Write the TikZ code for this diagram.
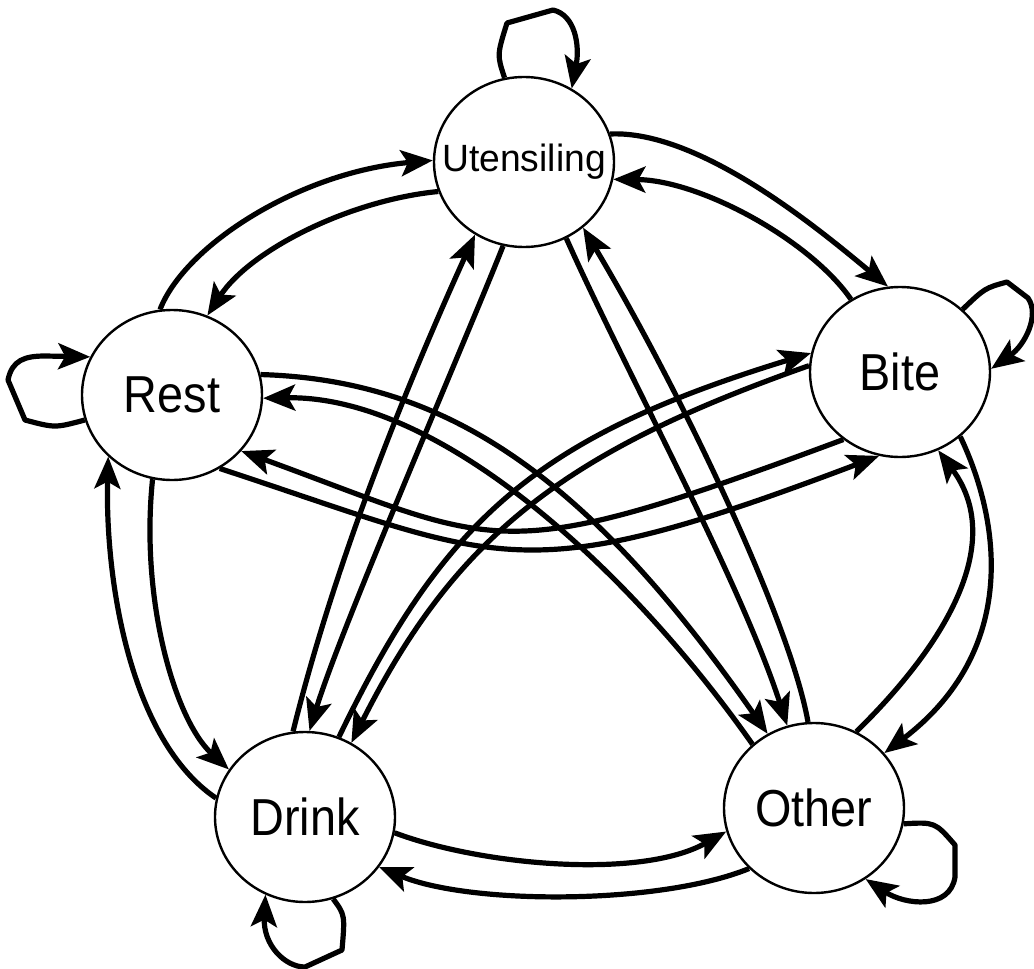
\documentclass[tikz,border=0pt]{standalone}
\usepackage{fontspec}
\usepackage{graphicx}
\setmainfont{Liberation Sans}
\usetikzlibrary{shapes.geometric,arrows.meta}
\begin{document}
\begin{tikzpicture}[x=1pt,y=-1pt,
  state/.style={ellipse,draw,line width=2.4pt,minimum width=180pt,minimum height=170pt,inner sep=0pt},
  biglabel/.style={font=\fontsize{52}{52}\selectfont},
  smalllabel/.style={font=\fontsize{38}{38}\selectfont},
  edge/.style={line width=5.2pt,line join=round,-{Stealth[length=32pt,width=26pt,inset=7pt]}}
]
\useasboundingbox (0,0) rectangle (1034,969);
% states
\node[state,smalllabel] (U) at (524,162) {\makebox[0pt]{\scalebox{0.98}[1]{Utensiling}}};
\node[state,biglabel] (B) at (900,372) {\makebox[0pt]{\scalebox{0.9}[1]{Bite}}};
\node[state,biglabel] (R) at (172,395) {\makebox[0pt]{\scalebox{0.9}[1]{Rest}}};
\node[state,biglabel] (D) at (305,817) {\makebox[0pt]{\scalebox{0.9}[1]{Drink}}};
\node[state,biglabel] (O) at (814,808) {\makebox[0pt]{\scalebox{0.9}[1]{Other}}};
% self loops
\draw[edge] (U.103) .. controls (497,55) .. (507,23) -- (553,10) .. controls (575,15) and (580,45) .. (U.57);
\draw[edge] (R.196) .. controls (55,428) .. (25,420) -- (8,380) .. controls (12,360) and (25,356) .. (45,356) -- (R.155);
\draw[edge] (B.45) .. controls (985,288) .. (1007,282) -- (1028,298) .. controls (1040,315) and (1025,345) .. (B.2);
\draw[edge] (D.289) .. controls (345,915) .. (342,950) -- (305,967) .. controls (285,967) and (263,945) .. (D.243);
\draw[edge] (O.350) .. controls (935,822) .. (955,845) -- (955,877) .. controls (950,910) and (905,905) .. (O.306);
% Rest - Utensiling
\draw[edge] (R.98) .. controls (185,245) and (300,172) .. (U.179);
\draw[edge] (U.199) .. controls (350,200) and (250,250) .. (R.66);
% Utensiling - Bite
\draw[edge] (U.18) .. controls (700,130) and (820,230) .. (B.98);
\draw[edge] (B.124) .. controls (810,240) and (700,180) .. (U.349);
% Utensiling - Drink
\draw[edge] (D.98) .. controls (333,570) and (400,400) .. (U.236);
\draw[edge] (U.256) .. controls (470,330) and (340,630) .. (D.87);
% Utensiling - Other
\draw[edge] (U.299) .. controls (625,370) and (740,580) .. (O.108);
\draw[edge] (O.94) .. controls (790,620) and (680,390) .. (U.312);
% Rest - Other
\draw[edge] (R.13) .. controls (450,380) and (590,480) .. (O.122);
\draw[edge] (O.134) .. controls (630,570) and (440,395) .. (R.358);
% Rest - Bite
\draw[edge] (B.230) .. controls (493,570) and (504,547) .. (R.321);
\draw[edge] (R.303) .. controls (505,562) and (517,593) .. (B.256);
% Rest - Drink
\draw[edge] (R.257) .. controls (140,600) and (175,720) .. (D.148);
\draw[edge] (D.168) .. controls (130,740) and (105,580) .. (R.224);
% Bite - Other
\draw[edge] (B.313) .. controls (1000,520) and (1020,650) .. (O.38);
\draw[edge] (O.61) .. controls (950,640) and (1005,540) .. (B.296);
% Drink - Other
\draw[edge] (D.350) .. controls (480,865) and (640,880) .. (O.195);
\draw[edge] (O.223) .. controls (660,905) and (470,905) .. (D.326);
% Drink - Bite
\draw[edge] (D.67) .. controls (444,519) and (536,437) .. (B.168);
\draw[edge] (B.176) .. controls (563,452) and (455,537) .. (D.58);
\end{tikzpicture}
\end{document}
